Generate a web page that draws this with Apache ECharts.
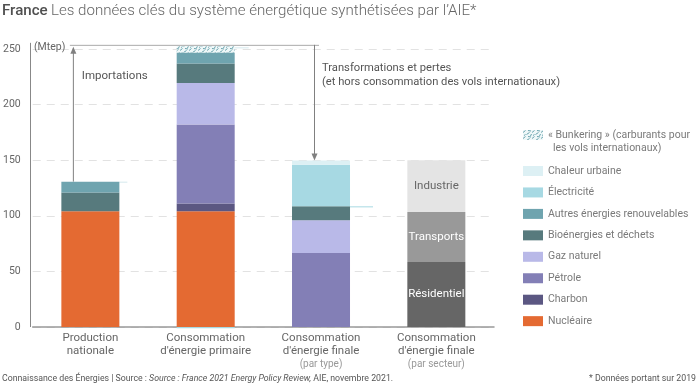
<!DOCTYPE html>
<html><head><meta charset="utf-8">
<script src="https://cdn.jsdelivr.net/npm/echarts@6/dist/echarts.min.js"></script>
<style>html,body{margin:0;padding:0;background:#fff}#c{width:700px;height:385px}</style>
</head><body><div id="c"></div>
<script>
// ---- data ----
const catLine1 = ['Production', 'Consommation', 'Consommation', 'Consommation'];
const catLine2 = ['nationale', "d'énergie primaire", "d'énergie finale", "d'énergie finale"];
const catSub   = ['', '', '(par type)', '(par secteur)'];
const yTicks = [0, 50, 100, 150, 200, 250];

const nucleaire   = [104, 104, null, null];
const charbon     = [null, 7, null, null];
const petrole     = [null, 71, 66.5, null];
const gaz         = [null, 37.5, 29.4, null];
const bio         = [17, 17.4, 12.6, null];
const autres      = [9.7, 10, null, null];
const electricite = [null, -1.2, 37.5, null];
const chaleur     = [null, null, 3.8, null];
const bunkering   = [null, 5.5, null, null];
const residentiel = [null, null, null, 58.5];
const transports  = [null, null, null, 45];
const industrie   = [null, null, null, 46.4];

const bunkeringLabel1 = '« Bunkering » (carburants pour';
const bunkeringLabel2 = 'les vols internationaux)';

// ---- pattern for bunkering ----
function makePattern() {
  const c = document.createElement('canvas');
  c.width = 9; c.height = 6;
  const g = c.getContext('2d');
  g.fillStyle = '#eef7f8'; g.fillRect(0, 0, 9, 6);
  g.strokeStyle = '#6aa3ad'; g.lineWidth = 1;
  g.beginPath();
  g.moveTo(0, 2.5); g.lineTo(2.5, 0.5);
  g.moveTo(3.5, 4.5); g.lineTo(6.5, 2.5);
  g.moveTo(1, 5.5); g.lineTo(2.5, 4.5);
  g.moveTo(5, 0.5); g.lineTo(8, 1);
  g.moveTo(7, 5.5); g.lineTo(9, 4.5);
  g.stroke();
  return c;
}
const bunkPattern = { image: makePattern(), repeat: 'repeat' };

const FONT = 'Roboto, "Noto Sans", sans-serif';
const chart = echarts.init(document.getElementById('c'), null, { renderer: 'canvas' });

function barSeries(name, data, color, extra) {
  return Object.assign({
    name: name, type: 'bar', stack: 'tot', data: data, barWidth: 58,
    clip: false, itemStyle: { color: color, borderWidth: 0 },
    emphasis: { disabled: true }, animation: false
  }, extra || {});
}
function sectorLabel(col) {
  return { label: { show: true, position: 'inside', formatter: '{a}', color: col, fontSize: 11.5, fontFamily: FONT } };
}

const series = [
  barSeries('Nucléaire', nucleaire, '#e46a32'),
  barSeries('Charbon', charbon, '#5b5782'),
  barSeries('Pétrole', petrole, '#837fb6'),
  barSeries('Gaz naturel', gaz, '#b9b9e8'),
  barSeries('Bioénergies et déchets', bio, '#577a7d'),
  barSeries('Autres énergies renouvelables', autres, '#6fa4af'),
  barSeries('Électricité', electricite, '#a7d9e3'),
  barSeries('Chaleur urbaine', chaleur, '#ddf0f4'),
  barSeries(bunkeringLabel1, bunkering, bunkPattern),
  barSeries('Résidentiel', residentiel, '#666666', sectorLabel('#ffffff')),
  barSeries('Transports', transports, '#999999', sectorLabel('#ffffff')),
  barSeries('Industrie', industrie, '#e4e4e4', sectorLabel('#666666'))
];

const legendText = { color: '#7a7a7a', fontSize: 10.5, fontFamily: FONT, lineHeight: 12 };

chart.setOption({
  animation: false,
  textStyle: { fontFamily: FONT },
  grid: { left: 30, right: 206, top: 49, bottom: 58, containLabel: false },
  xAxis: {
    type: 'category', data: catLine1.map((_, i) => i),
    axisLine: { show: true, lineStyle: { color: '#999', width: 1.5 } },
    axisTick: { show: false },
    axisLabel: {
      margin: 5, interval: 0,
      formatter: (v) => {
        const i = +v;
        let s = '{a|' + catLine1[i] + '}\n{a|' + catLine2[i] + '}';
        if (catSub[i]) s += '\n{b|' + catSub[i] + '}';
        return s;
      },
      rich: {
        a: { fontSize: 11.5, color: '#666', lineHeight: 13, fontFamily: FONT },
        b: { fontSize: 10, color: '#999', lineHeight: 12, fontFamily: FONT }
      }
    }
  },
  yAxis: {
    type: 'value', min: 0, max: 250, interval: 50,
    axisLine: { show: false }, axisTick: { show: false },
    axisLabel: { color: '#666', fontSize: 10.5, margin: 12, fontFamily: FONT,
      formatter: (v) => yTicks.includes(v) ? String(v) : '' },
    splitLine: { show: true, lineStyle: { color: '#e2e2e2', type: [8, 6], width: 1 } }
  },
  legend: [
    { data: [bunkeringLabel1], orient: 'vertical', left: 523, top: 129, itemWidth: 20, itemHeight: 10,
      itemGap: 0, padding: 0, icon: 'rect', selectedMode: false, textStyle: legendText },
    { data: ['Chaleur urbaine', 'Électricité', 'Autres énergies renouvelables', 'Bioénergies et déchets',
             'Gaz naturel', 'Pétrole', 'Charbon', 'Nucléaire'],
      orient: 'vertical', left: 523, top: 165, padding: 0, itemWidth: 20, itemHeight: 10, itemGap: 9.45,
      icon: 'rect', selectedMode: false, textStyle: legendText }
  ],
  series: series
});

// ---- annotations computed from data through the axes ----
const px = (ci, v) => chart.convertToPixel({ gridIndex: 0 }, [ci, v]);
function posSum(i) {
  return [nucleaire, charbon, petrole, gaz, bio, autres, electricite, chaleur, bunkering, residentiel, transports, industrie]
    .reduce((s, a) => s + (a[i] > 0 ? a[i] : 0), 0);
}
const prodTot = posSum(0), primTot = posSum(1), finTot = posSum(2);
const half = 29;
const p0 = px(0, prodTot), p1 = px(1, primTot), p2 = px(2, finTot);
const yZero = px(0, 0)[1];
const yTop = p1[1] - 1.5;
const impX = p0[0] - 17.5;
const downX = p2[0] - 7;
const gc = '#808080';
const gsty = { stroke: gc, lineWidth: 1 };

function arrowHead(x, y, dir) { // dir: -1 up, +1 down (tip at x,y)
  return { type: 'polygon', shape: { points: [[x, y], [x - 3, y - dir * 7], [x + 3, y - dir * 7]] }, style: { fill: gc }, silent: true };
}
const yBioFin = px(2, petrole[2] + gaz[2] + bio[2])[1];
const graphics = [
  { type: 'line', shape: { x1: 30.5, y1: yTop - 2, x2: 30.5, y2: yZero }, style: { stroke: '#888', lineWidth: 1 }, silent: true },
  { type: 'text', x: 34, y: px(0, 250)[1] - 2, style: { text: '(Mtep)', fill: '#666', font: '10.5px ' + FONT, textVerticalAlign: 'middle' }, silent: true },
  { type: 'line', shape: { x1: impX + 0.5, y1: p0[1], x2: impX + 0.5, y2: yTop + 4 }, style: gsty, silent: true },
  arrowHead(impX + 0.5, yTop + 2, -1),
  { type: 'line', shape: { x1: impX - 3, y1: yTop + 0.5, x2: downX + 5, y2: yTop + 0.5 }, style: { stroke: '#aaa', lineWidth: 1 }, silent: true },
  { type: 'line', shape: { x1: downX + 0.5, y1: yTop, x2: downX + 0.5, y2: p2[1] - 5 }, style: gsty, silent: true },
  arrowHead(downX + 0.5, p2[1], 1),
  { type: 'text', x: impX + 9, y: 76, style: { text: 'Importations', fill: '#555', font: '11.5px ' + FONT, textVerticalAlign: 'middle' }, silent: true },
  { type: 'text', x: downX + 8, y: 68, style: { text: 'Transformations et pertes', fill: '#555', font: '11.2px ' + FONT, textVerticalAlign: 'middle' }, silent: true },
  { type: 'text', x: downX + 8, y: 82, style: { text: '(et hors consommation des vols internationaux)', fill: '#555', font: '11.2px ' + FONT, textVerticalAlign: 'middle' }, silent: true },
  { type: 'line', shape: { x1: p0[0] + half, y1: p0[1] + 0.5, x2: p0[0] + half + 8, y2: p0[1] + 0.5 }, style: { stroke: '#d5e9ed', lineWidth: 1 }, silent: true },
  { type: 'line', shape: { x1: p1[0] + half, y1: p1[1] + 1.5, x2: p1[0] + half + 14, y2: p1[1] + 1.5 }, style: { stroke: '#d5e9ed', lineWidth: 1 }, silent: true },
  { type: 'line', shape: { x1: p2[0] + half, y1: yBioFin + 0.5, x2: p2[0] + half + 23, y2: yBioFin + 0.5 }, style: { stroke: '#a7d9e3', lineWidth: 1 }, silent: true },
  { type: 'text', x: 553, y: 148, style: { text: bunkeringLabel2, fill: '#7a7a7a', font: '10.5px ' + FONT, textVerticalAlign: 'middle' }, silent: true },
  { type: 'text', x: 2, y: 11, style: { rich: {
      f: { fontSize: 15.1, fontWeight: 500, fill: '#505050', fontFamily: FONT },
      t: { fontSize: 15.1, fontWeight: 300, fill: '#666', fontFamily: FONT } },
      text: '{f|France} {t|Les données clés du système énergétique synthétisées par l’AIE*}', textVerticalAlign: 'middle' }, silent: true },
  { type: 'text', x: 2, y: 379, style: { rich: {
      n: { fontSize: 8.75, fill: '#555', fontFamily: FONT },
      i: { fontSize: 8.75, fill: '#555', fontStyle: 'italic', fontFamily: FONT } },
      text: '{n|Connaissance des Énergies | Source : }{i|Source : France 2021 Energy Policy Review,}{n| AIE, novembre 2021.}', textVerticalAlign: 'middle' }, silent: true },
  { type: 'text', x: 696, y: 379, style: { text: '* Données portant sur 2019', fill: '#555', font: '8.75px ' + FONT, textAlign: 'right', textVerticalAlign: 'middle' }, silent: true }
];
chart.setOption({ graphic: graphics });
</script>
</body></html>
